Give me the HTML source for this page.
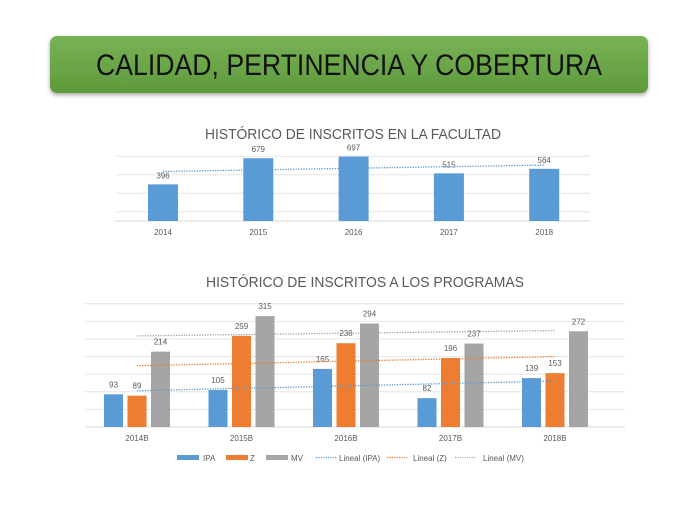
<!DOCTYPE html>
<html><head><meta charset="utf-8"><style>
html,body{margin:0;padding:0;background:#fff;width:696px;height:522px;overflow:hidden}
svg{display:block;font-family:"Liberation Sans",sans-serif}
</style></head><body>
<svg id="s" width="696" height="522" viewBox="0 0 696 522">
<defs>
<linearGradient id="g" x1="0" y1="0" x2="0" y2="1"><stop offset="0" stop-color="#79b257"/><stop offset="1" stop-color="#5e9a3c"/></linearGradient>
<filter id="sh" x="-5%" y="-20%" width="110%" height="150%"><feDropShadow dx="0" dy="2" stdDeviation="2" flood-opacity="0.35"/></filter>
</defs>
<g>
<rect x="50" y="36" width="598" height="57" rx="7" fill="url(#g)" filter="url(#sh)"/>
<text x="349" y="75" text-anchor="middle" font-size="30" textLength="506" lengthAdjust="spacingAndGlyphs" fill="#111">CALIDAD, PERTINENCIA Y COBERTURA</text>
</g>
<text x="353" y="139" text-anchor="middle" font-size="14.5" fill="#595959" textLength="296" lengthAdjust="spacingAndGlyphs">HISTÓRICO DE INSCRITOS EN LA FACULTAD</text>
<g id="c1"></g>
<text x="365" y="287" text-anchor="middle" font-size="14.5" fill="#595959" textLength="318" lengthAdjust="spacingAndGlyphs">HISTÓRICO DE INSCRITOS A LOS PROGRAMAS</text>
<g id="c2"></g>
<g id="lg"></g>
</svg>
<script>
const years1 = ["2014","2015","2016","2017","2018"];
const total1 = [396,679,697,515,564];
const grid1 = [100,300,500,700];
const cats2 = ["2014B","2015B","2016B","2017B","2018B"];
const ipa = [93,105,165,82,139];
const zz = [89,259,238,196,153];
const mv = [214,315,294,237,272];
const grid2 = [0,50,100,150,200,250,300,350];
const seriesNames = ["IPA","Z","MV"];
const colors = ["#5b9bd5","#ed7d31","#a5a5a5"];
const NS="http://www.w3.org/2000/svg";
function mk(p,t,a){const e=document.createElementNS(NS,t);for(const k in a)e.setAttribute(k,a[k]);p.appendChild(e);return e;}
function trend(v){const n=v.length,m=(n-1)/2;let mean=v.reduce((a,b)=>a+b,0)/n,num=0,den=0;v.forEach((y,i)=>{num+=(i-m)*(y-mean);den+=(i-m)*(i-m);});const s=num/den;return i=>mean+s*(i-m);}
// chart1
const c1=document.getElementById('c1');
const y1=v=>221-v*0.0925, x1=i=>163+i*95.3;
mk(c1,'line',{x1:115,x2:590,y1:221,y2:221,stroke:'#d9d9d9'});
grid1.forEach(g=>{const l=mk(c1,'line',{x1:115,x2:590,y1:y1(g),y2:y1(g),stroke:'#e6e6e6'});
});
total1.forEach((v,i)=>{const r=mk(c1,'rect',{x:x1(i)-15,y:y1(v),width:30,height:221-y1(v),fill:colors[0]});

const t=mk(c1,'text',{x:x1(i),y:y1(v)-6,'text-anchor':'middle','font-size':8,fill:'#595959'});t.textContent=v;

const c=mk(c1,'text',{x:x1(i),y:235,'text-anchor':'middle','font-size':8,fill:'#595959'});c.textContent=years1[i];
});
const t1=trend(total1);
const tl=mk(c1,'line',{x1:x1(0),x2:x1(4),y1:y1(t1(0)),y2:y1(t1(4)),stroke:colors[0],'stroke-width':1.3,'stroke-dasharray':'1.3 1.3'});

// chart2
const c2=document.getElementById('c2');
const y2=v=>427-v*0.352, gx=i=>137+i*104.5;
grid2.forEach(g=>{const l=mk(c2,'line',{x1:85,x2:625,y1:y2(g),y2:y2(g),stroke:g===0?'#d9d9d9':'#e6e6e6'});
});
const all=[ipa,zz,mv];
all.forEach((ser,s)=>{ser.forEach((v,i)=>{const cx=gx(i)+(s-1)*23.5;
const r=mk(c2,'rect',{x:cx-9.5,y:y2(v),width:19,height:427-y2(v),fill:colors[s]});

const t=mk(c2,'text',{x:cx,y:y2(v)-7,'text-anchor':'middle','font-size':8,fill:'#595959'});t.textContent=v;
});});
cats2.forEach((c,i)=>{const t=mk(c2,'text',{x:gx(i),y:441,'text-anchor':'middle','font-size':8,fill:'#595959'});t.textContent=c;
});
all.forEach((ser,s)=>{const f=trend(ser);
const l=mk(c2,'line',{x1:gx(0),x2:gx(4),y1:y2(f(0)),y2:y2(f(4)),stroke:colors[s],'stroke-width':1.3,'stroke-dasharray':'1.3 1.3'});
});
// legend
const lg=document.getElementById('lg');
const sw=[[177,203],[226,250],[266,291]];
sw.forEach((p,s)=>{const r=mk(lg,'rect',{x:p[0],y:455,width:22,height:5,fill:colors[s]});

const t=mk(lg,'text',{x:p[1],y:461,'font-size':8,fill:'#595959'});t.textContent=seriesNames[s];
});
const tw=[[316,339],[387,413],[455,483]];
tw.forEach((p,s)=>{const l=mk(lg,'line',{x1:p[0],x2:p[0]+21,y1:457.5,y2:457.5,stroke:colors[s],'stroke-width':1.2,'stroke-dasharray':'1.2 1.2'});

const t=mk(lg,'text',{x:p[1],y:461,'font-size':8,fill:'#595959'});t.textContent='Lineal ('+seriesNames[s]+')';
});
</script>
</body></html>
